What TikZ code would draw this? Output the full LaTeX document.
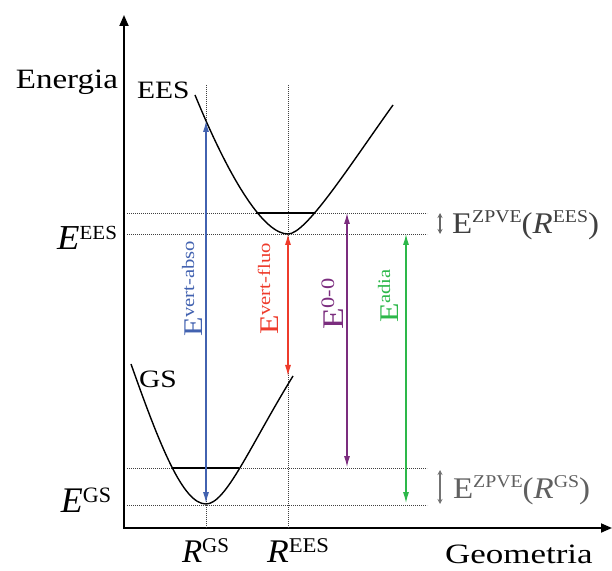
\documentclass[tikz,border=0pt]{standalone}
\usepackage{fontspec}
\setmainfont{Liberation Serif}
\usepackage{graphicx}
\usetikzlibrary{arrows.meta}
\definecolor{cblue}{HTML}{4262B0}
\definecolor{cred}{HTML}{EE3B2B}
\definecolor{cpurple}{HTML}{7B2D7E}
\definecolor{cgreen}{HTML}{2DB84A}
\definecolor{zpdark}{HTML}{404040}
\definecolor{zplight}{HTML}{606060}
\newcommand{\fs}[1]{\fontsize{#1}{#1}\selectfont}
\newcommand{\up}[3]{\raisebox{#1}{\fs{#2}#3}}
\newcommand{\wid}[2]{\scalebox{#1}[1]{#2}}
\begin{document}
\begin{tikzpicture}[x=1pt,y=1pt,
  axis/.style={line width=1.8pt,{Triangle[length=11pt,width=9pt]}-{Triangle[length=11pt,width=9pt]}},
  curve/.style={line width=1.4pt},
  dots/.style={line width=0.9pt, dash pattern=on 0.9pt off 1.1pt, black!75},
  level/.style={line width=1.1pt},
  trans/.style={line width=1.1pt,{Latex[length=11pt,width=6pt]}-{Latex[length=11pt,width=6pt]}},
  zp/.style={line width=1.6pt,{Stealth[length=5pt,width=5pt]}-{Stealth[length=5pt,width=5pt]}},
  lbl/.style={inner sep=0pt, outer sep=0pt},
  rlbl/.style={inner sep=0pt, outer sep=0pt, rotate=90, anchor=base west},
]
\useasboundingbox (0,0) rectangle (612,570);

% axes
\coordinate (O) at (124,42);
\coordinate (Ytop) at (124,555);
\coordinate (Xend) at (612,42);
\draw[axis] (Ytop) -- (O) -- (Xend);

% dotted guides
\coordinate (vg1) at (206,485); \coordinate (vg2) at (206,42);
\coordinate (ve1) at (288,485); \coordinate (ve2) at (288,42);
\draw[dots] (vg1) -- (vg2);
\draw[dots] (ve1) -- (ve2);
\coordinate (h1a) at (127,357); \coordinate (h1b) at (427,357);
\coordinate (h2a) at (127,336); \coordinate (h2b) at (427,336);
\coordinate (h3a) at (127,102); \coordinate (h3b) at (427,102);
\coordinate (h4a) at (127,65);  \coordinate (h4b) at (427,65);
\draw[dots] (h1a) -- (h1b);
\draw[dots] (h2a) -- (h2b);
\draw[dots] (h3a) -- (h3b);
\draw[dots] (h4a) -- (h4b);

% vibrational levels
\coordinate (le1) at (256,357); \coordinate (le2) at (315,357);
\coordinate (lg1) at (172,102); \coordinate (lg2) at (239,102);
\draw[level] (le1) -- (le2);
\draw[level] (lg1) -- (lg2);

% potential curves
\coordinate (ees0) at (195,475); \coordinate (eesmin) at (288,336); \coordinate (ees1) at (393,465);
\coordinate (gs0) at (131,206);  \coordinate (gsmin) at (206,66);   \coordinate (gs1) at (293,194);
\draw[curve] (ees0) .. controls (232,385) and (265,336) .. (eesmin)
                    .. controls (306,336) and (348,402) .. (ees1);
\draw[curve] (gs0) .. controls (160,124) and (183,66) .. (gsmin)
                   .. controls (226,66) and (250,124) .. (gs1);

% transitions
\coordinate (ba) at (206,67);  \coordinate (bb) at (206,449);
\coordinate (ra) at (288,336); \coordinate (rb) at (288,194);
\coordinate (pa) at (347,357); \coordinate (pb) at (347,103);
\coordinate (ga) at (406,336); \coordinate (gb) at (406,67);
\draw[trans, cblue] (ba) -- (bb);
\draw[trans, cred] (ra) -- (rb);
\draw[trans, cpurple] (pa) -- (pb);
\draw[trans, cgreen] (ga) -- (gb);

% ZPVE arrows
\coordinate (za) at (440,357); \coordinate (zb) at (440,336);
\coordinate (zc) at (440,100); \coordinate (zd) at (440,66);
\draw[zp, black!60] (za) -- (zb);
\draw[zp, black!55] (zc) -- (zd);

% labels
\node[lbl, anchor=base east] (energia) at (118,481) {\wid{1.18}{\fs{28}Energia}};
\node[lbl, anchor=base west] (ees) at (137,471) {\wid{1.18}{\fs{25}EES}};
\node[lbl, anchor=base west] (gs) at (139,182) {\wid{1.18}{\fs{25}GS}};
\node[lbl, anchor=base east] (eees) at (117,320) {\wid{1.05}{\fs{35}\textit{E}\up{10pt}{20}{EES}}};
\node[lbl, anchor=base east] (egs) at (111,58) {\fs{36}\textit{E}\up{10pt}{22}{GS}};
\node[lbl, anchor=base west] (rgs) at (182,8) {\fs{33}\textit{R}\up{10pt}{21}{GS}};
\node[lbl, anchor=base west] (rees) at (267,8) {\wid{1.08}{\fs{33}\textit{R}\up{10pt}{21}{EES}}};
\node[lbl, anchor=base west] (geo) at (445,7) {\wid{1.25}{\fs{28}Geometria}};
\node[lbl, anchor=base west, text=zpdark] (zpees) at (452,336) {\wid{1.1}{\fs{30}E\up{11pt}{18}{ZPVE}(\textit{R}\up{11pt}{18}{EES})}};
\node[lbl, anchor=base west, text=zplight] (zpgs) at (453,72) {\wid{1.1}{\fs{30}E\up{11pt}{18}{ZPVE}(\textit{R}\up{11pt}{18}{GS})}};

\node[rlbl, text=cblue] (labso) at (202,233) {\wid{1.18}{\fs{27}E\up{8pt}{17.5}{vert-abso}}};
\node[rlbl, text=cred] (lfluo) at (278,235) {\wid{1.18}{\fs{27}E\up{8pt}{17.5}{vert-fluo}}};
\node[rlbl, text=cpurple] (l00) at (343,240) {\wid{1.18}{\fs{30}E\up{9pt}{19}{0-0}}};
\node[rlbl, text=cgreen] (ladia) at (398,247) {\wid{1.18}{\fs{27}E\up{8pt}{17.5}{adia}}};
\end{tikzpicture}
\end{document}
